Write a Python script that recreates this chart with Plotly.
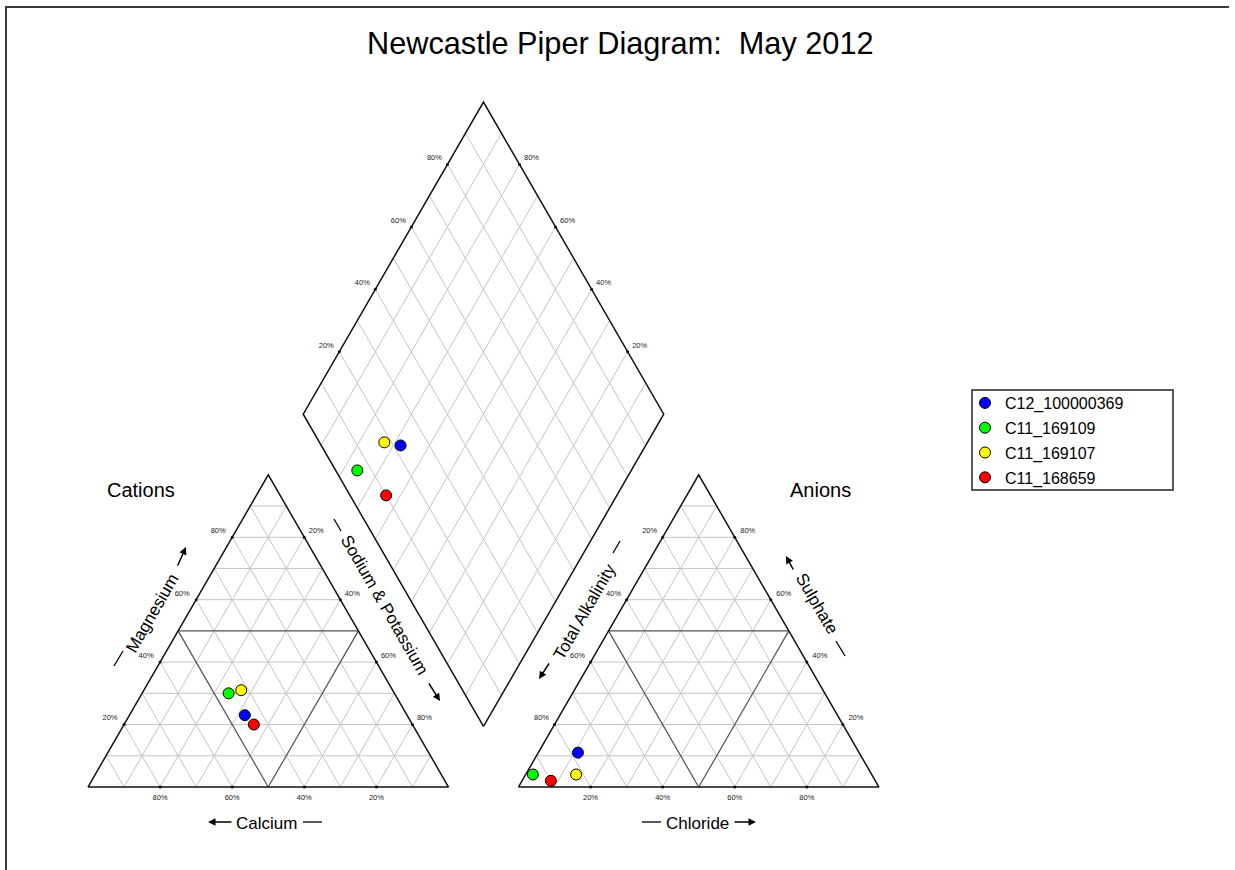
import numpy as np
import plotly.graph_objects as go

# ---------------- data (percent) ----------------
samples = ["C12_100000369", "C11_169109", "C11_169107", "C11_168659"]
colors = ["#0000FF", "#00FF00", "#FFFF00", "#FF0000"]
calcium = [45, 46, 42, 44]
magnesium = [23, 30, 31, 20]
sodium_potassium = [32, 24, 27, 36]
alkalinity = [78, 94, 82, 90]
sulphate = [11, 4, 4, 2]
chloride = [11, 2, 14, 8]
tick_values = [20, 40, 60, 80]
grid_values = [10, 20, 30, 40, 50, 60, 70, 80, 90]

# ---------------- geometry (pixels) ----------------
W, H = 1235, 870
X0, Y0 = 88.0, 787.0   # left vertex of cation triangle
S = 360.5              # side length
GAP = 0.194            # gap between triangles (fraction of side)
SIN60 = np.sqrt(3) / 2
CAT = 0.0
AN = 1.0 + GAP
FONT = "Liberation Sans, Arial, sans-serif"


def to_px(u, v):
    return X0 + S * u, Y0 - S * v


def tri(off, right, apex):
    return to_px(off + right + 0.5 * apex, SIN60 * apex)


def diamond(nak, alk):
    t = AN + 1 - alk - nak
    return to_px(nak + 0.5 * t, SIN60 * t)


def add_seg(xs, ys, p, q):
    xs += [p[0], q[0], None]
    ys += [p[1], q[1], None]


fig = go.Figure()

# ---- grids ----
gx, gy, dx, dy = [], [], [], []
for g in grid_values:
    f = g / 100
    for off in (CAT, AN):
        segs = [
            (tri(off, 0, f), tri(off, 1 - f, f)),
            (tri(off, f, 0), tri(off, f, 1 - f)),
            (tri(off, 1 - f, 0), tri(off, 0, 1 - f)),
        ]
        for p, q in segs:
            if g == 50:
                add_seg(dx, dy, p, q)
            else:
                add_seg(gx, gy, p, q)
    add_seg(gx, gy, diamond(f, 1), diamond(f, 0))
    add_seg(gx, gy, diamond(0, f), diamond(1, f))

fig.add_trace(go.Scatter(x=gx, y=gy, mode="lines", line=dict(color="#c4c4c4", width=1),
                         hoverinfo="skip", showlegend=False))
fig.add_trace(go.Scatter(x=dx, y=dy, mode="lines", line=dict(color="#505050", width=1.2),
                         hoverinfo="skip", showlegend=False))

# ---- outlines ----
ex, ey = [], []
for off in (CAT, AN):
    pts = [tri(off, 0, 0), tri(off, 1, 0), tri(off, 0, 1), tri(off, 0, 0)]
    ex += [p[0] for p in pts] + [None]
    ey += [p[1] for p in pts] + [None]
pts = [diamond(1, 1), diamond(1, 0), diamond(0, 0), diamond(0, 1), diamond(1, 1)]
ex += [p[0] for p in pts]
ey += [p[1] for p in pts]
fig.add_trace(go.Scatter(x=ex, y=ey, mode="lines", line=dict(color="#111111", width=1.5),
                         hoverinfo="skip", showlegend=False))

# ---- ticks & tick labels ----
tkx, tky, lx, ly, lt = [], [], [], [], []


def tick(p, off, v):
    tkx.append(p[0]); tky.append(p[1])
    lx.append(p[0] + off[0]); ly.append(p[1] + off[1]); lt.append(f"{v}%")


for v in tick_values:
    f = v / 100
    tick(tri(CAT, 0, f), (-14, -6), v)            # magnesium
    tick(tri(CAT, f, 1 - f), (12, -6), v)         # sodium & potassium
    tick(tri(CAT, 1 - f, 0), (0, 11), v)          # calcium
    tick(tri(AN, 0, 1 - f), (-13, -6), v)         # total alkalinity
    tick(tri(AN, 1 - f, f), (13, -6), v)          # sulphate
    tick(tri(AN, f, 0), (0, 11), v)               # chloride
    tick(diamond(0, 1 - f), (-13, -6), v)         # sulphate + chloride
    tick(diamond(1 - f, 0), (12, -6), v)          # calcium + magnesium

fig.add_trace(go.Scatter(x=tkx, y=tky, mode="markers", marker=dict(color="#111111", size=3),
                         hoverinfo="skip", showlegend=False))
fig.add_trace(go.Scatter(x=lx, y=ly, mode="text", text=lt, textposition="middle center",
                         textfont=dict(family=FONT, size=7.5, color="#1a1a1a"),
                         hoverinfo="skip", showlegend=False))

# ---- samples ----
for i, name in enumerate(samples):
    tot_c = calcium[i] + magnesium[i] + sodium_potassium[i]
    tot_a = alkalinity[i] + sulphate[i] + chloride[i]
    na = sodium_potassium[i] / tot_c
    mg = magnesium[i] / tot_c
    cl = chloride[i] / tot_a
    so4 = sulphate[i] / tot_a
    alk = alkalinity[i] / tot_a
    p1 = tri(CAT, na, mg)
    p2 = tri(AN, cl, so4)
    p3 = diamond(na, alk)
    fig.add_trace(go.Scatter(
        x=[p1[0], p2[0], p3[0]], y=[p1[1], p2[1], p3[1]], mode="markers", name=name,
        legendgroup=name,
        marker=dict(color=colors[i], size=11, line=dict(color="#000000", width=1)),
    ))

# ---- texts ----
ann = []
ann.append(dict(x=620, y=43, text="Newcastle Piper Diagram:  May 2012", showarrow=False,
                font=dict(family=FONT, size=30.7, color="#000000")))
ann.append(dict(x=141, y=490, text="Cations", showarrow=False,
                font=dict(family=FONT, size=20, color="#000000")))
ann.append(dict(x=820, y=490, text="Anions", showarrow=False,
                font=dict(family=FONT, size=20, color="#000000")))

axis_labels = [
    ("Calcium", 266, 823, 0),
    ("Chloride", 697, 823, 0),
    ("Magnesium", 152, 613, -60),
    ("Sodium &amp; Potassium", 385, 605, 60),
    ("Total Alkalinity", 584, 612, -60),
    ("Sulphate", 817, 603, 60),
]
for t, x, y, a in axis_labels:
    ann.append(dict(x=x, y=y, text=t, textangle=a, showarrow=False,
                    font=dict(family=FONT, size=17, color="#000000")))

# arrows (head, tail)
arrows = [
    ((208, 822), (233, 822)),
    ((756, 822), (733, 822)),
    ((186, 547), (177, 567)),
    ((440, 701), (428, 682)),
    ((539, 679), (550, 662)),
    ((786, 556), (794, 571)),
]
for (hx, hy), (tx, ty) in arrows:
    ann.append(dict(x=hx, y=hy, ax=tx, ay=ty, axref="x", ayref="y", text="",
                    showarrow=True, arrowhead=2, arrowsize=1, arrowwidth=1.5,
                    arrowcolor="#000000", standoff=0, startstandoff=0))

dashes = [
    ((303, 822), (322, 822)),
    ((642, 822), (661, 822)),
    ((114, 666), (123, 651)),
    ((334, 519), (341, 531)),
    ((613, 553), (620, 541)),
    ((836, 641), (845, 656)),
]
shapes = []
for (ax_, ay_), (bx, by) in dashes:
    shapes.append(dict(type="line", x0=ax_, y0=ay_, x1=bx, y1=by, xref="x", yref="y",
                       line=dict(color="#000000", width=1.3)))
# outer frame (left and top edges only)
shapes.append(dict(type="line", x0=6, y0=H, x1=6, y1=7, xref="x", yref="y",
                   line=dict(color="#3a3a3a", width=2)))
shapes.append(dict(type="line", x0=5, y0=7, x1=W - 6, y1=7, xref="x", yref="y",
                   line=dict(color="#3a3a3a", width=2)))
# legend box
shapes.append(dict(type="rect", x0=972, y0=390, x1=1173, y1=490, xref="x", yref="y",
                   line=dict(color="#222222", width=1.5)))

fig.update_layout(
    width=W, height=H,
    margin=dict(l=0, r=0, t=0, b=0),
    paper_bgcolor="white", plot_bgcolor="white",
    xaxis=dict(range=[0, W], visible=False, fixedrange=True),
    yaxis=dict(range=[H, 0], visible=False, fixedrange=True),
    annotations=ann, shapes=shapes,
    showlegend=True,
    legend=dict(x=965 / W, y=1 - 386 / H, xanchor="left", yanchor="top",
                bgcolor="rgba(0,0,0,0)", borderwidth=0, traceorder="grouped",
                tracegroupgap=1, font=dict(family=FONT, size=16, color="#000000")),
    hovermode=False,
)

fig.write_html("out.html")
